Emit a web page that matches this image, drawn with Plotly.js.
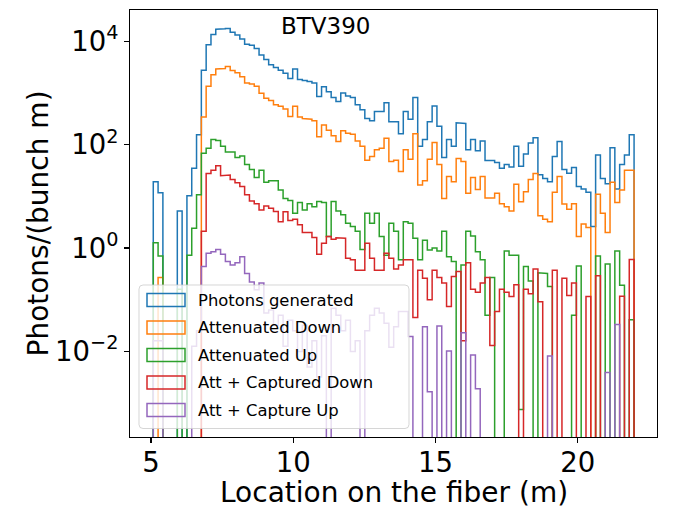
<!DOCTYPE html>
<html><head><meta charset="utf-8">
<script src="https://cdn.plot.ly/plotly-3.0.1.min.js"></script>
<style>body{margin:0;background:#fff;} #chart{width:678px;height:510px;}</style>
</head><body><div id="chart"></div>
<script>
// Histogram binning (100 bins along the fiber)
const binStart = 5.08;
const binWidth = 0.169;

const seriesNames = ["Photons generated", "Attenuated Down", "Attenuated Up", "Att + Captured Down", "Att + Capture Up"];
const seriesColors = ["#1f77b4", "#ff7f0e", "#2ca02c", "#d62728", "#9467bd"];

const photonsGenerated = [19, 11.7, 0, 0, 0, 5.2, 0, 10.2, 35, 155,
  2750, 8500, 13500, 17000, 17400, 17600, 14800, 13200, 11000, 8700,
  8300, 7200, 5400, 4400, 3500, 3100, 2750, 2400, 1900, 2900,
  1820, 1740, 1660, 1550, 850, 1320, 1050, 810, 680, 1000,
  870, 810, 590, 470, 320, 290, 435, 435, 645, 275,
  275, 162, 435, 310, 810, 93, 126, 275, 560, 225,
  56, 126, 93, 263, 257, 79, 126, 76, 117, 49,
  49, 45, 35, 41, 37, 93, 38, 66, 107, 135,
  26, 22, 19, 59, 115, 33, 28, 36, 15.5, 13.8,
  12, 2.6, 63, 22, 17.4, 87, 13.8, 41, 63, 155];

const attenuatedDown = [0, 0.27, 0, 0, 0, 0, 0, 0, 0, 0,
  340, 1350, 2240, 2900, 2950, 3240, 2700, 2450, 2040, 1550,
  1480, 1350, 980, 790, 710, 590, 550, 490, 350, 550,
  340, 320, 310, 290, 141, 240, 190, 148, 115, 186,
  166, 158, 117, 93, 50, 59, 79, 85, 132, 47,
  50, 30, 79, 52, 162, 16.6, 20, 52, 110, 41,
  9.1, 24, 19, 54, 47, 11.5, 23, 13.5, 24, 9.3,
  9.3, 11.5, 7.2, 6.3, 5.2, 17, 7.8, 12.3, 21, 27.5,
  4.2, 3.6, 3.2, 12, 24, 7.1, 5.6, 7.2, 1.66, 2.9,
  2.5, 0, 11, 4.7, 2.0, 18.6, 7.6, 13.2, 32, 32];

const attenuatedUp = [1.26, 0.70, 0, 0, 0, 0.16, 0, 0.72, 2.4, 10.7,
  68, 85, 126, 120, 93, 72, 72, 56, 60, 41,
  33, 23, 32, 18.6, 20, 20, 13.2, 9.1, 8.3, 4.7,
  7.6, 5.4, 7.2, 6.3, 7.9, 7.6, 1.66, 7.9, 5.2, 4.4,
  3.0, 2.6, 2.1, 0.93, 4.7, 3.0, 4.7, 1.66, 0.72, 3.0,
  2.1, 0.59, 3.2, 3.0, 1.55, 0.59, 1.41, 0.91, 1.0, 0.87,
  2.1, 0.68, 0.55, 0, 0.47, 2.1, 1.7, 0.85, 0.59, 0.05,
  0.27, 0, 0, 0.87, 0.72, 0.72, 0.00075, 0.44, 0.23, 0,
  0.33, 0.32, 0.18, 0, 0, 0, 0, 0.05, 0.45, 0,
  0, 0, 0.70, 0, 0.49, 0, 0.87, 0.19, 0, 0.041];

const attCapturedDown = [0, 0, 0, 0, 0, 0, 0, 0, 0, 0,
  2.1, 27.5, 32, 39, 25, 25.7, 21, 18.2, 15.5, 10.7,
  8.1, 7.2, 5.4, 6.5, 5.9, 5.1, 3.2, 5.0, 3.4, 3.6,
  2.8, 2.0, 2.0, 1.6, 0.76, 1.23, 1.66, 1.48, 1.58, 1.55,
  0.63, 0.59, 0.37, 0.37, 1.23, 0.63, 0.37, 0.37, 0.79, 0.63,
  0.39, 0.47, 0.59, 0.59, 0.045, 0.37, 0.26, 0.10, 0.37, 0.27,
  0.21, 0.074, 0.28, 0.35, 0.016, 0.52, 0.16, 0.14, 0.21, 0.27,
  0.013, 0.059, 0.16, 0.14, 0.115, 0.195, 0, 0.16, 0.13, 0.39,
  0.091, 0, 0, 0.37, 0, 0.26, 0.12, 0.21, 0, 0,
  0.115, 0, 0.29, 0, 0, 0, 0, 0.117, 0, 0.60];

const attCaptureUp = [0.016, 0.016, 0, 0, 0, 0, 0, 0, 0.0126, 0.025,
  0.44, 0.79, 0.85, 0.93, 0.76, 0.55, 0.47, 0.52, 0.68, 0.32,
  0.22, 0.155, 0.21, 0.055, 0.063, 0.032, 0.05, 0.0126, 0.04, 0.025,
  0.01, 0.032, 0.005, 0.016, 0.0032, 0.02, 0, 0.068, 0.05, 0.025,
  0.04, 0.01, 0.016, 0, 0.025, 0.05, 0.068, 0.055, 0.035, 0.012,
  0.03, 0.059, 0.059, 0.0195, 0, 0, 0.03, 0.00166, 0, 0.031,
  0, 0.0102, 0, 0, 0.023, 0, 0.0085, 0.0019, 0, 0,
  0, 0, 0, 0, 0, 0, 0, 0, 0, 0,
  0, 0, 0.0081, 0, 0, 0, 0, 0, 0, 0,
  0, 0, 0, 0, 0.0039, 0, 0.033, 0, 0, 0];

const xTickVals = [5, 10, 15, 20];
const yTickVals = [0.01, 1, 100, 10000];
const yTickText = ["10<sup>\u22122</sup>", "10<sup>0</sup>", "10<sup>2</sup>", "10<sup>4</sup>"];
const xTitle = "Location on the fiber (m)";
const yTitle = "Photons/(bunch m)";
const chartLabel = "BTV390";

const allSeries = [photonsGenerated, attenuatedDown, attenuatedUp, attCapturedDown, attCaptureUp];

// build matplotlib-like step outline (histtype='step'); empty bins drop below the axis
function stepOutline(vals) {
  const floorVal = 1e-9;
  const xs = [binStart], ys = [floorVal];
  for (let i = 0; i < vals.length; i++) {
    const left = binStart + i * binWidth, right = left + binWidth;
    const v = vals[i] > 0 ? vals[i] : floorVal;
    xs.push(left, right); ys.push(v, v);
  }
  xs.push(binStart + vals.length * binWidth); ys.push(floorVal);
  return {xs, ys};
}

const traces = allSeries.map((vals, k) => {
  const p = stepOutline(vals);
  return {type: 'scatter', mode: 'lines', x: p.xs, y: p.ys, name: seriesNames[k],
    line: {color: seriesColors[k], width: 1.5}, showlegend: false, hoverinfo: 'skip'};
});

const W = 678, H = 510, mL = 130, mR = 21, mT = 10, mB = 73;
const pw = W - mL - mR, ph = H - mT - mB;
const px = x => (x - mL) / pw;
const py = y => 1 - (y - mT) / ph;

// custom legend (matplotlib style)
const shapes = [];
const annotations = [];
{
  const x0 = px(139), x1 = px(409), yTop = py(285), yBot = py(428.5);
  const rx = 4 / pw, ry = 4 / ph;
  const path = `M ${x0 + rx},${yTop} L ${x1 - rx},${yTop} Q ${x1},${yTop} ${x1},${yTop - ry} L ${x1},${yBot + ry} Q ${x1},${yBot} ${x1 - rx},${yBot} L ${x0 + rx},${yBot} Q ${x0},${yBot} ${x0},${yBot + ry} L ${x0},${yTop - ry} Q ${x0},${yTop} ${x0 + rx},${yTop} Z`;
  shapes.push({type: 'path', xref: 'paper', yref: 'paper', path: path, layer: 'above',
    fillcolor: 'rgba(255,255,255,0.8)', line: {color: 'rgba(204,204,204,0.8)', width: 1}});
  const rowY = [300, 327.5, 355, 382.5, 410];
  seriesNames.forEach((nm, k) => {
    shapes.push({type: 'rect', xref: 'paper', yref: 'paper', layer: 'above',
      x0: px(147), x1: px(185), y0: py(rowY[k] + 6.5), y1: py(rowY[k] - 6.5),
      fillcolor: 'rgba(0,0,0,0)', line: {color: seriesColors[k], width: 1.5}});
    annotations.push({xref: 'paper', yref: 'paper', x: px(196), y: py(rowY[k]), xanchor: 'left', yanchor: 'middle',
      text: nm, showarrow: false, font: {family: 'DejaVu Sans', size: 16.4, color: '#000'}});
  });
}
annotations.push({xref: 'paper', yref: 'paper', x: px(325), y: py(26), xanchor: 'center', yanchor: 'middle',
  text: chartLabel, showarrow: false, font: {family: 'DejaVu Sans', size: 23, color: '#000'}});
// axis titles
annotations.push({xref: 'paper', yref: 'paper', x: px(393.5), y: py(493), xanchor: 'center', yanchor: 'middle',
  text: xTitle, showarrow: false, font: {family: 'DejaVu Sans', size: 28, color: '#000'}});
annotations.push({xref: 'paper', yref: 'paper', x: px(38), y: py(223.5), xanchor: 'center', yanchor: 'middle',
  textangle: -90, text: yTitle, showarrow: false, font: {family: 'DejaVu Sans', size: 28, color: '#000'}});

const axisCommon = {showline: true, linecolor: '#000', linewidth: 1.1, mirror: true, ticks: 'outside',
  ticklen: 5, tickwidth: 1.1, tickcolor: '#000', showgrid: false, zeroline: false, automargin: false,
  tickfont: {family: 'DejaVu Sans', size: 27.5, color: '#000'}};

const layout = {
  width: W, height: H, margin: {l: mL, r: mR, t: mT, b: mB},
  paper_bgcolor: '#fff', plot_bgcolor: '#fff', showlegend: false,
  font: {family: 'DejaVu Sans', color: '#000'},
  xaxis: Object.assign({}, axisCommon, {range: [4.262, 22.786], tickvals: xTickVals, ticklabelstandoff: -4}),
  yaxis: Object.assign({}, axisCommon, {type: 'log', range: [-3.656, 4.603], tickvals: yTickVals, ticktext: yTickText}),
  shapes: shapes, annotations: annotations
};

Plotly.newPlot('chart', traces, layout, {staticPlot: true, displayModeBar: false});
</script>
</body></html>
